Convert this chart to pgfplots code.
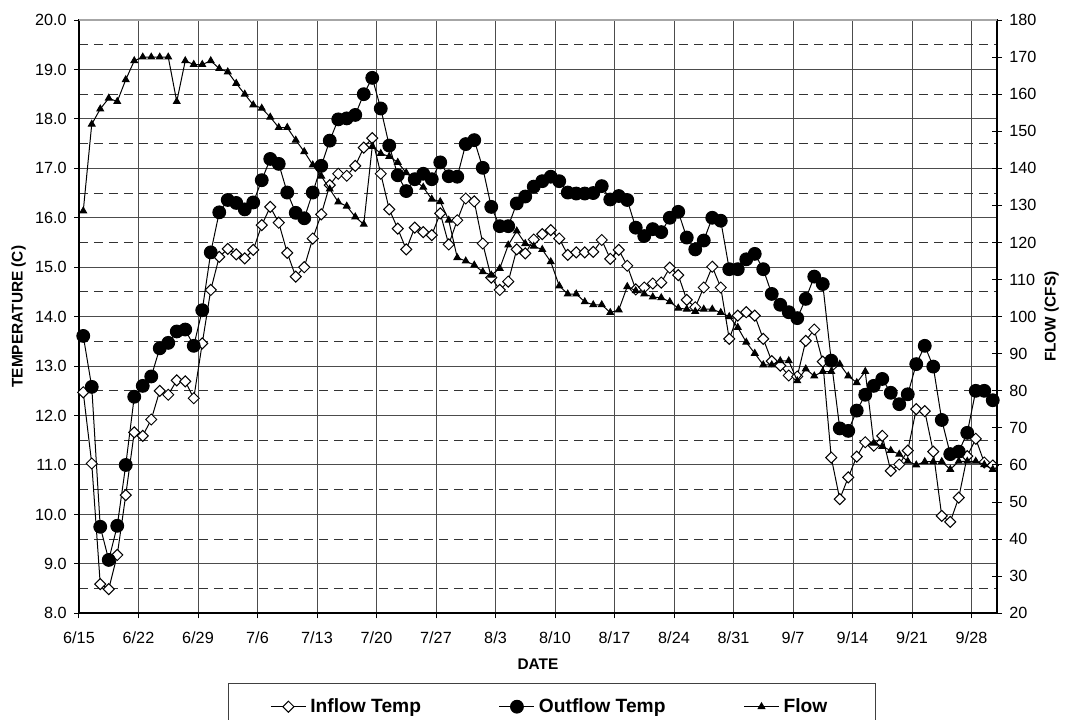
\documentclass[border=0pt]{standalone}
\usepackage{pgfplots}
\usepackage{pgfplotstable}
\usepackage{fontspec}
\setmainfont{Liberation Sans}
\pgfplotsset{compat=1.18}

% day (0 = 6/15), inflow temp, outflow temp (C), flow (cfs)
\pgfplotstableread{
d in out flow
0 12.47 13.61 128.5
1 11.03 12.58 151.9
2 8.59 9.75 156.0
3 8.49 9.08 158.9
4 9.18 9.77 158.0
5 10.39 11.00 163.9
6 11.66 12.38 169.0
7 11.59 12.60 170.0
8 11.92 12.79 170.0
9 12.50 13.36 170.0
10 12.42 13.47 170.0
11 12.71 13.70 158.0
12 12.69 13.74 169.0
13 12.35 13.41 168.0
14 13.46 14.13 168.0
15 14.54 15.30 169.0
16 15.21 16.11 166.9
17 15.37 16.36 166.0
18 15.26 16.30 162.9
19 15.18 16.17 160.0
20 15.35 16.31 157.1
21 15.85 16.76 156.2
22 16.22 17.19 153.8
23 15.90 17.09 151.0
24 15.29 16.51 151.0
25 14.81 16.10 147.6
26 15.00 15.99 144.5
27 15.58 16.51 140.9
28 16.07 17.05 137.9
29 16.66 17.56 134.4
30 16.89 17.99 130.9
31 16.85 18.01 129.8
32 17.05 18.08 126.9
33 17.42 18.50 124.9
34 17.61 18.83 145.9
35 16.89 18.21 144.0
36 16.17 17.46 143.2
37 15.78 16.86 141.6
38 15.36 16.54 138.8
39 15.80 16.78 136.8
40 15.71 16.89 134.9
41 15.65 16.78 131.7
42 16.09 17.12 131.0
43 15.46 16.84 126.0
44 15.95 16.83 115.9
45 16.39 17.49 115.0
46 16.33 17.57 113.9
47 15.48 17.01 112.1
48 14.79 16.22 111.2
49 14.54 15.83 113.0
50 14.71 15.83 119.3
51 15.36 16.29 123.1
52 15.28 16.43 119.7
53 15.56 16.63 119.0
54 15.67 16.74 118.1
55 15.75 16.83 114.8
56 15.58 16.74 108.3
57 15.25 16.51 106.1
58 15.30 16.49 106.1
59 15.30 16.49 104.0
60 15.31 16.50 103.2
61 15.55 16.64 103.2
62 15.17 16.37 101.1
63 15.35 16.44 101.8
64 15.03 16.36 108.1
65 14.55 15.80 107.0
66 14.59 15.63 106.1
67 14.67 15.77 105.3
68 14.69 15.71 105.1
69 14.99 16.00 104.0
70 14.84 16.12 102.3
71 14.34 15.60 102.0
72 14.19 15.36 101.4
73 14.59 15.54 102.0
74 15.01 16.00 102.0
75 14.59 15.94 101.1
76 13.55 14.96 100.0
77 14.02 14.96 97.1
78 14.09 15.16 93.1
79 14.02 15.27 90.1
80 13.55 14.96 87.0
81 13.10 14.46 87.0
82 13.01 14.24 88.1
83 12.81 14.09 88.1
84 12.79 13.97 82.7
85 13.51 14.36 85.9
86 13.74 14.81 84.0
87 13.09 14.66 85.2
88 11.15 13.11 85.2
89 10.31 11.74 87.2
90 10.75 11.69 84.0
91 11.17 12.10 82.2
92 11.46 12.42 85.2
93 11.39 12.60 65.9
94 11.59 12.74 65.0
95 10.88 12.46 63.9
96 11.01 12.23 62.9
97 11.29 12.43 61.0
98 12.13 13.04 60.0
99 12.09 13.41 60.9
100 11.27 12.99 60.9
101 9.97 11.91 60.9
102 9.85 11.22 58.8
103 10.34 11.27 61.0
104 11.18 11.65 61.0
105 11.53 12.50 61.0
106 11.05 12.50 60.1
107 10.99 12.31 58.8
}\tempdata

\pgfplotsset{
  inflow/.style={black, line width=0.5pt, mark=square*, mark size=1.95pt,
    mark options={rotate=45, fill=white, draw=black, line width=0.5pt}},
  outflow/.style={black, line width=0.5pt, mark=*, mark size=3.2pt,
    mark options={fill=black}},
  flowline/.style={black, line width=0.5pt, mark=triangle*, mark size=1.9pt,
    mark options={fill=black}},
}

\begin{document}
\begin{tikzpicture}
\begin{axis}[
  name=main,
  scale only axis, width=459pt, height=296.65pt,
  clip=false,
  xmin=0, xmax=108, ymin=8, ymax=20,
  xtick={0,7,...,105},
  xticklabels={6/15,6/22,6/29,7/6,7/13,7/20,7/27,8/3,8/10,8/17,8/24,8/31,9/7,9/14,9/21,9/28},
  ytick={8,9,...,20},
  minor ytick={8.5,9.5,...,19.5},
  xtick pos=bottom, ytick pos=left,
  tick align=outside, major tick length=2.5pt, minor tick length=0pt,
  xmajorgrids, ymajorgrids, yminorgrids,
  major grid style={black!70, line width=0.5pt},
  minor grid style={black!80, line width=0.5pt, dash pattern=on 4.5pt off 3pt},
  axis line style={line width=0.9pt, black},
  tick style={black, line width=0.5pt},
  yticklabel style={/pgf/number format/fixed, /pgf/number format/fixed zerofill,
    /pgf/number format/precision=1},
  /pgf/number format/assume math mode=true,
  tick label style={font=\fontsize{8.1}{9.7}\selectfont},
  xticklabel style={anchor=north, inner sep=0pt, yshift=-6.5pt},
  yticklabel style={anchor=east, inner sep=0pt, xshift=-3.5pt},
  xlabel={DATE}, ylabel={TEMPERATURE (C)},
  every axis x label/.style={at={(axis description cs:0.5,-0.0851)}, anchor=center,
    font=\fontsize{7.7}{9.2}\selectfont\bfseries},
  every axis y label/.style={at={(axis description cs:-0.0657,0.5)}, anchor=center, rotate=90,
    font=\fontsize{7.7}{9.2}\selectfont\bfseries},
]
\addplot[inflow] table[x expr=\thisrow{d}+0.5, y=in] {\tempdata};
\addplot[outflow] table[x expr=\thisrow{d}+0.5, y=out] {\tempdata};
\end{axis}

\begin{axis}[
  scale only axis, width=459pt, height=296.65pt,
  clip=false,
  xmin=0, xmax=108, ymin=20, ymax=180,
  axis x line=none, axis y line*=right,
  ytick={20,30,...,180},
  tick align=center, major tick length=5pt,
  axis line style={line width=0.9pt, black},
  tick style={black, line width=0.5pt},
  /pgf/number format/assume math mode=true,
  tick label style={font=\fontsize{8.1}{9.7}\selectfont},
  yticklabel style={anchor=west, inner sep=0pt, xshift=3.5pt},
  ylabel={FLOW (CFS)},
  every axis y label/.style={at={(axis description cs:1.0596,0.5)}, anchor=center, rotate=90,
    font=\fontsize{7.7}{9.2}\selectfont\bfseries},
  legend columns=3,
  legend image code/.code={\draw[mark repeat=2,mark phase=2] plot coordinates {(0pt,0pt) (8.75pt,0pt) (17.5pt,0pt)};},
  legend style={draw=none, fill=none, inner sep=0pt,
    at={(axis description cs:0.20806,-0.1574)}, anchor=west,
    font=\fontsize{9.6}{11}\selectfont\bfseries,
    /tikz/every even column/.append style={column sep=37pt}},
]
\addlegendimage{inflow}
\addlegendentry{Inflow Temp}
\addlegendimage{outflow}
\addlegendentry{Outflow Temp}
\addplot[flowline] table[x expr=\thisrow{d}+0.5, y=flow] {\tempdata};
\addlegendentry{Flow}
\end{axis}

\draw[black!35, line width=0.9pt] (main.north west) -- (main.north east);
\draw[black!75, line width=0.5pt]
  ([xshift=74.65pt,yshift=-54pt]main.south west) -- ([xshift=74.65pt,yshift=-35pt]main.south west)
  -- ([xshift=398pt,yshift=-35pt]main.south west) -- ([xshift=398pt,yshift=-54pt]main.south west);

\pgfresetboundingbox
\path[use as bounding box] ([xshift=-39.5pt,yshift=-52.85pt]main.south west)
  rectangle ([xshift=34pt,yshift=10pt]main.north east);
\end{tikzpicture}
\end{document}
